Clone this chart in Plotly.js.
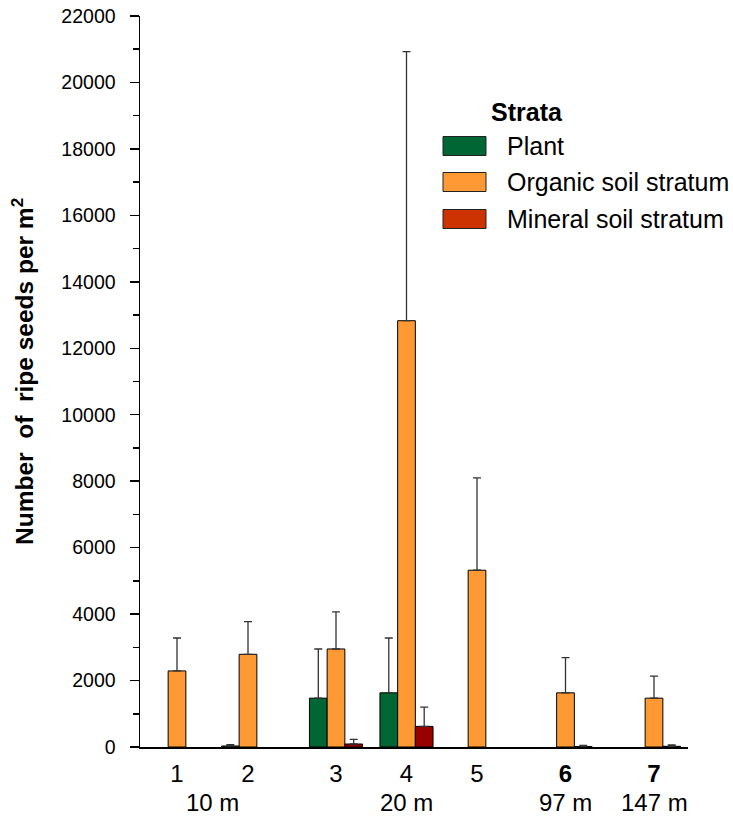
<!DOCTYPE html>
<html>
<head>
<meta charset="utf-8">
<script src="https://cdn.plot.ly/plotly-3.0.1.min.js"></script>
<style>html,body{margin:0;padding:0;background:#fff;}#chart{width:733px;height:816px;}</style>
</head>
<body>
<div id="chart"></div>
<script>
// ---- data ----
const sites = ['1', '2', '3', '4', '5', '6', '7'];
const siteLabels = ['1', '2', '3', '4', '5', '<b>6</b>', '<b>7</b>'];
const distanceLabels = ['10 m', '20 m', '97 m', '147 m'];
const distanceGroups = [[0, 1], [2, 3, 4], [5], [6]];
const seriesNames = ['Plant', 'Organic soil stratum', 'Mineral soil stratum'];

const plant      = [null, 30,   1470, 1630,  null, null, null];
const plantErr   = [null, 40,   1480, 1650,  null, null, null];
const organic    = [2290, 2790, 2950, 12830, 5320, 1630, 1470];
const organicErr = [990,  985,  1115, 8100,  2780, 1060, 665];
const mineral    = [null, null, 90,   620,   null, 15,   20];
const mineralErr = [null, null, 140,  580,   null, 35,   40];

// ---- layout helpers (positions / styles) ----
const sitePos = [37, 108, 196, 266.5, 337, 425.5, 514];
const barW = 17.7;
const barColors = ['#006633', '#FF9933', '#990000'];
const legendColors = ['#006633', '#FF9933', '#CC3300'];
const FONT = 'Arial, "Liberation Sans", sans-serif';

const M = {l: 140, r: 45, t: 16, b: 69};
const W = 733, H = 816;
const pw = W - M.l - M.r, ph = H - M.t - M.b;
const px2x = p => (p - M.l) / pw;
const py2y = p => (H - M.b - p) / ph;

function barTrace(name, y, err, color, offset) {
  return {
    type: 'bar', name: name, x: sitePos, y: y,
    width: barW, offset: offset,
    marker: {color: color, line: {color: '#000', width: 1}},
    error_y: {type: 'data', symmetric: false, array: err,
              arrayminus: err.map(() => 0), color: '#333',
              thickness: 1.3, width: 4},
    showlegend: false, hoverinfo: 'y'
  };
}

const data = [
  barTrace(seriesNames[0], plant, plantErr, barColors[0], -1.5 * barW),
  barTrace(seriesNames[1], organic, organicErr, barColors[1], -0.5 * barW),
  barTrace(seriesNames[2], mineral, mineralErr, barColors[2], 0.5 * barW)
];

const shapes = [];
const annotations = [];

// y title
annotations.push({
  xref: 'paper', yref: 'paper', x: px2x(22), y: py2y(372),
  text: 'Number  of  ripe seeds per m<sup>2</sup>', textangle: -90,
  showarrow: false, xanchor: 'center', yanchor: 'middle',
  font: {family: FONT, size: 24.5, color: '#000', weight: 'bold'}
});

// distance labels
distanceGroups.forEach((g, i) => {
  const xc = g.reduce((s, k) => s + sitePos[k], 0) / g.length;
  annotations.push({
    xref: 'x', yref: 'paper', x: xc, y: 0, yshift: -55,
    text: distanceLabels[i], showarrow: false,
    xanchor: 'center', yanchor: 'middle',
    font: {family: FONT, size: 24, color: '#000'}
  });
});

// manual legend
annotations.push({
  xref: 'paper', yref: 'paper', x: px2x(527), y: py2y(112),
  text: '<b>Strata</b>', showarrow: false, xanchor: 'center', yanchor: 'middle',
  font: {family: FONT, size: 25, color: '#000'}
});
const rowY = [146, 182, 219];
seriesNames.forEach((n, i) => {
  shapes.push({
    type: 'rect', xref: 'paper', yref: 'paper',
    x0: px2x(443), x1: px2x(486), y0: py2y(rowY[i] - 9.5), y1: py2y(rowY[i] + 9.5),
    fillcolor: legendColors[i], line: {color: '#222', width: 1}
  });
  annotations.push({
    xref: 'paper', yref: 'paper', x: px2x(505), y: py2y(rowY[i]),
    text: n, showarrow: false, xanchor: 'left', yanchor: 'middle',
    font: {family: FONT, size: 25, color: '#000'}
  });
});

const layout = {
  width: W, height: H,
  margin: M,
  paper_bgcolor: '#fff', plot_bgcolor: '#fff',
  barmode: 'overlay',
  showlegend: false,
  font: {family: FONT, color: '#000'},
  xaxis: {
    range: [0, pw], showgrid: false, zeroline: false,
    showline: true, linecolor: '#000', linewidth: 1.5,
    tickmode: 'array', tickvals: sitePos, ticktext: siteLabels,
    ticks: '', ticklabelstandoff: 5,
    tickfont: {family: FONT, size: 24, color: '#000'}
  },
  yaxis: {
    range: [0, 22000], tick0: 0, dtick: 2000,
    tickformat: 'd', separatethousands: false,
    showgrid: false, zeroline: false,
    showline: true, linecolor: '#000', linewidth: 1.5,
    ticks: 'outside', ticklen: 9, tickwidth: 1.5, tickcolor: '#000',
    minor: {dtick: 1000, ticks: 'outside', ticklen: 6, tickwidth: 1.5, tickcolor: '#000'},
    ticklabelstandoff: 10,
    tickfont: {family: FONT, size: 19.5, color: '#000'}
  },
  shapes: shapes,
  annotations: annotations
};

Plotly.newPlot('chart', data, layout, {displayModeBar: false, staticPlot: true});
</script>
</body>
</html>
